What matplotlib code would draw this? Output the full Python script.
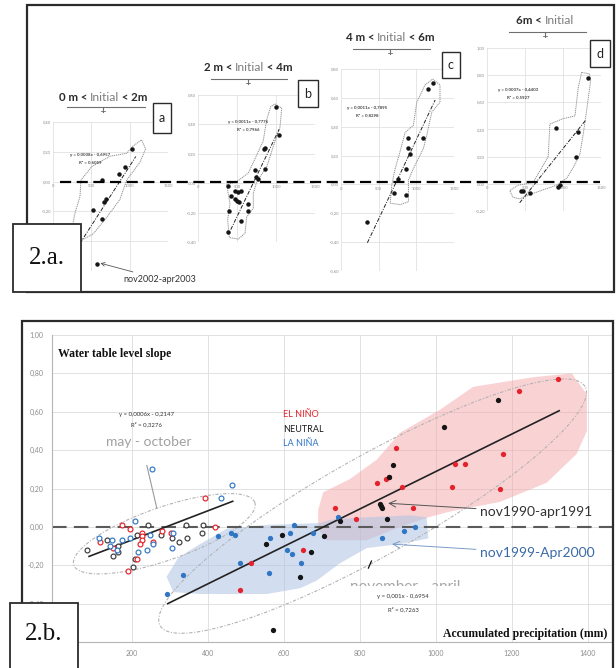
import matplotlib
matplotlib.use("Agg")
import numpy as np
from matplotlib import pyplot as plt
from matplotlib.patches import Rectangle, Polygon
from matplotlib.lines import Line2D
from matplotlib.transforms import Bbox, TransformedBbox, blended_transform_factory

W, H = 616, 668
SANS = ["Lato", "DejaVu Sans"]
SERIF = ["Liberation Serif", "DejaVu Serif"]

# ---- 2.a: four small panels (accumulated precipitation vs slope) ----
small_xticks = [0, 500, 1000, 1500]

a_x = [1034, 939, 865, 635, 691, 665, 517, 643, 569]
a_y = [0.22, 0.10, 0.05, 0.01, -0.12, -0.14, -0.19, -0.25, -0.55]
a_fit = (0.0008, -0.6957, 350, 1080)
a_eq = ["y = 0,0008x - 0,6957", "R² = 0,6059"]
a_hull_x = [1156, 1208, 1134, 960, 873, 700, 526, 352, 243, 287, 352, 365, 504, 743, 960, 1047]
a_hull_y = [0.28, 0.22, 0.13, 0.01, -0.12, -0.24, -0.35, -0.40, -0.33, -0.21, -0.10, 0.01, 0.10, 0.17, 0.19, 0.24]
a_yticks = [-0.6, -0.4, -0.2, 0.0, 0.2, 0.4]

b_x = [1004, 1034, 854, 850, 854, 730, 739, 773, 390, 476, 510, 545, 425, 480, 500, 520, 635, 635, 400, 553, 380]
b_y = [0.52, 0.33, 0.24, 0.23, 0.10, 0.09, 0.04, 0.03, -0.02, -0.05, -0.06, -0.05, -0.09, -0.11, -0.12, -0.13, -0.14, -0.19, -0.19, -0.26, -0.33]
b_fit = (0.0011, -0.7776, 420, 1040)
b_eq = ["y = 0,0011x - 0,7776", "R² = 0,7966"]
b_hull_x = [987, 1073, 1051, 965, 880, 752, 709, 709, 624, 603, 517, 402, 380, 410, 368, 496, 645, 752, 837, 880, 932]
b_hull_y = [0.54, 0.51, 0.38, 0.25, 0.11, 0.01, -0.07, -0.17, -0.23, -0.34, -0.38, -0.37, -0.25, -0.14, -0.01, 0.01, 0.07, 0.19, 0.29, 0.43, 0.52]
b_yticks = [-0.4, -0.2, 0.0, 0.2, 0.4, 0.6]

c_x = [1226, 1160, 895, 1085, 887, 917, 865, 750, 710, 865, 344]
c_y = [0.70, 0.66, 0.32, 0.32, 0.25, 0.21, 0.11, 0.04, -0.06, -0.07, -0.26]
c_fit = (0.0011, -0.7895, 350, 1250)
c_eq = ["y = 0,0011x - 0,7895", "R² = 0,8298"]
c_hull_x = [1217, 1314, 1314, 1204, 1138, 1094, 961, 895, 895, 785, 653, 675, 719, 785, 851, 961, 1006, 1116]
c_hull_y = [0.73, 0.69, 0.57, 0.50, 0.34, 0.25, 0.11, 0.03, -0.12, -0.14, -0.13, 0.0, 0.11, 0.23, 0.36, 0.41, 0.57, 0.69]
c_yticks = [-0.6, -0.4, -0.2, 0.0, 0.2, 0.4, 0.6, 0.8]

d_x = [1324, 902, 1192, 1170, 928, 959, 444, 475, 563]
d_y = [0.78, 0.41, 0.38, 0.20, -0.02, -0.01, -0.05, -0.05, -0.07]
d_fit = (0.0007, -0.4403, 430, 1300)
d_eq = ["y = 0,0007x - 0,4403", "R² = 0,5927"]
d_hull_x = [1245, 1346, 1364, 1311, 1267, 1223, 1135, 1047, 915, 607, 431, 343, 299, 409, 607, 805, 827, 1003, 1157, 1201]
d_hull_y = [0.82, 0.81, 0.76, 0.54, 0.37, 0.22, 0.12, 0.04, -0.01, -0.07, -0.11, -0.10, -0.05, -0.01, 0.01, 0.20, 0.44, 0.48, 0.50, 0.71]
d_yticks = [-0.2, 0.0, 0.2, 0.4, 0.6, 0.8, 1.0]

panel_titles = [("0 m < ", "Initial", " < 2m"), ("2 m < ", "Initial", " < 4m"),
                ("4 m < ", "Initial", " < 6m"), ("6m < ", "Initial", "")]
panel_letters = ["a", "b", "c", "d"]

# ---- 2.b: seasonal slopes by ENSO phase ----
may_blue_x = [252, 464, 433, 208, 114, 148, 175, 160, 195, 217, 239, 248, 254, 308, 305, 142]
may_blue_y = [0.30, 0.22, 0.15, 0.03, -0.06, -0.07, -0.07, -0.12, -0.06, -0.13, -0.12, -0.04, -0.09, -0.03, -0.11, -0.10]
may_red_x = [392, 173, 195, 225, 225, 225, 221, 212, 190, 256, 278, 302, 418, 117, 150]
may_red_y = [0.15, 0.01, -0.01, -0.03, -0.05, -0.07, -0.09, -0.17, -0.23, -0.08, -0.02, -0.03, 0.00, -0.08, -0.11]
may_black_x = [82, 133, 149, 164, 164, 243, 208, 202, 276, 305, 324, 341, 346, 385, 388, 212]
may_black_y = [-0.12, -0.07, -0.15, -0.13, -0.10, 0.01, -0.17, -0.21, -0.04, -0.06, -0.08, 0.01, -0.06, -0.03, 0.01, -0.04]

nov_red_x = [484, 512, 651, 734, 789, 844, 869, 875, 895, 910, 940, 1043, 1050, 1076, 1168, 1177, 1218, 1322]
nov_red_y = [-0.33, -0.19, -0.12, 0.10, 0.04, 0.23, 0.25, 0.26, 0.41, 0.21, 0.10, 0.21, 0.33, 0.33, 0.20, 0.38, 0.71, 0.77]
nov_black_x = [570, 553, 596, 642, 671, 705, 747, 852, 857, 855, 870, 876, 887, 1022, 1164]
nov_black_y = [-0.54, -0.09, -0.04, -0.26, -0.13, -0.05, 0.03, 0.12, 0.10, 0.11, 0.04, 0.26, 0.32, 0.52, 0.66]
nov_blue_x = [291, 335, 427, 461, 471, 484, 563, 561, 607, 620, 616, 626, 644, 677, 743, 857, 915, 945]
nov_blue_y = [-0.35, -0.25, -0.05, -0.03, -0.04, -0.19, -0.06, -0.24, -0.12, -0.14, -0.03, 0.01, -0.19, -0.03, 0.05, -0.06, -0.02, 0.00]

may_fit = (0.00076, -0.22, 87, 465)
nov_fit = (0.000976, -0.687, 294, 1324)

pink_x = [690, 703, 774, 844, 905, 1010, 1098, 1256, 1357, 1397, 1397, 1370, 1291, 1168, 1037, 980, 905, 817, 712, 690]
pink_y = [0.088, 0.18, 0.25, 0.35, 0.49, 0.61, 0.73, 0.78, 0.80, 0.69, 0.50, 0.38, 0.23, 0.13, 0.08, 0.05, 0.0, -0.07, -0.07, -0.01]
blue_x = [291, 322, 379, 449, 554, 695, 730, 818, 932, 975, 980, 905, 818, 747, 686, 642, 554, 379, 309]
blue_y = [-0.26, -0.16, -0.09, -0.01, 0.01, 0.02, 0.04, 0.05, 0.06, 0.05, -0.06, -0.09, -0.11, -0.19, -0.28, -0.32, -0.35, -0.35, -0.34]

# ellipse: centre, two half-axis vectors (data units)
may_ell = ((285, -0.036), (238, 0.164), (-24, 0.13))
nov_ell = ((833, 0.108), (559, 0.623), (-65, 0.226))

bottom_xticks = [200, 400, 600, 800, 1000, 1200, 1400]
bottom_yticks = [-0.6, -0.4, -0.2, 0.0, 0.2, 0.4, 0.6, 0.8, 1.0]

RED, BLUE, BLACK = "#e5222b", "#2f76c4", "#151515"

fig = plt.figure(figsize=(W / 100, H / 100), dpi=100)


def px_axes(left, top, right, bottom):
    return fig.add_axes([left / W, 1 - bottom / H, (right - left) / W, (bottom - top) / H])


def fx(x):
    return x / W


def fy(y):
    return 1 - y / H


def comma(v):
    return f"{v:.2f}".replace(".", ",")


def box(left, top, right, bottom, lw=1.2, fill=True):
    fig.add_artist(Rectangle((fx(left), fy(bottom)), (right - left) / W, (bottom - top) / H,
                             transform=fig.transFigure, fc="white" if fill else "none",
                             ec="#2b2b2b", lw=lw, zorder=5 if fill else 1))


def title_pieces(cx, y, pieces):
    r = fig.canvas.get_renderer()
    styles = [dict(color="#2b2b2b", fontweight="bold", fontsize=8.3),
              dict(color="#7f7f7f", fontsize=8.8),
              dict(color="#2b2b2b", fontweight="bold", fontsize=8.3)]
    texts = [fig.text(0, fy(y), s, va="baseline", ha="left", family=SANS, **st)
             for s, st in zip(pieces, styles)]
    widths = [t.get_window_extent(r).width for t in texts]
    x = cx - sum(widths) / 2
    for t, w in zip(texts, widths):
        t.set_x(fx(x))
        x += w


# outer frames
box(27, 5, 614, 292, lw=1.6, fill=False)
box(22, 321, 613, 690, lw=1.6, fill=False)

# small panels
panels = [
    ((53, 122, 168, 271), a_x, a_y, a_fit, a_eq, a_hull_x, a_hull_y, a_yticks, (90, 155)),
    ((198, 95, 315, 242), b_x, b_y, b_fit, b_eq, b_hull_x, b_hull_y, b_yticks, (248, 122)),
    ((341, 69, 454, 271), c_x, c_y, c_fit, c_eq, c_hull_x, c_hull_y, c_yticks, (367, 108)),
    ((487, 48, 601, 211), d_x, d_y, d_fit, d_eq, d_hull_x, d_hull_y, d_yticks, (518, 90)),
]
title_pos = [(103, 101, 67, 145, 107), (248, 71, 211, 287, 79), (390, 41, 353, 430, 49), (545, 24, 509, 586, 32)]
letter_box = [(153, 103, 171, 133), (298, 80, 318, 107), (442, 52, 460, 78), (590, 40, 610, 67)]

small_axes = []
for i, (rect, px, py, fit, eq, hx, hy, yt, eqpos) in enumerate(panels):
    ax = px_axes(*rect)
    small_axes.append(ax)
    ax.set_xlim(0, 1500)
    ax.set_ylim(yt[0], yt[-1])
    ax.set_xticks(small_xticks)
    ax.set_yticks(yt)
    # labels hidden behind the "2.a." box are left empty
    ax.set_yticklabels(["" if (i == 0 and v < -0.3) else comma(v) for v in yt])
    ax.grid(True, color="#dcdcdc", lw=0.5)
    ax.set_axisbelow(True)
    for s in ["top", "right", "left", "bottom"]:
        ax.spines[s].set_visible(False)
    ax.spines["bottom"].set_position(("data", 0))
    ax.tick_params(length=0, labelsize=3, labelcolor="#8c8c8c", pad=1.5)
    for lab in ax.get_xticklabels() + ax.get_yticklabels():
        lab.set_family(SANS)
    ax.add_patch(Polygon(np.column_stack([hx, hy]), closed=True, fill=False,
                         ec="#8f8f8f", lw=0.7, ls=(0, (1.2, 0.8)), zorder=2))
    xs = np.array([fit[2], fit[3]])
    ax.plot(xs, fit[0] * xs + fit[1], color="#222222", lw=0.7,
            ls=(0, (4, 1.5, 1, 1.5)), zorder=3)
    ax.plot(px, py, "o", ms=2.2, color=BLACK, zorder=4, clip_on=False)
    for k, line in enumerate(eq):
        fig.text(fx(eqpos[0]), fy(eqpos[1] + 7.5 * k), line, ha="center", va="center",
                 fontsize=3.2, fontweight="bold", color="#404040", family=SANS)
    cx, by, ul, ur, uy = title_pos[i]
    title_pieces(cx, by, panel_titles[i])
    fig.add_artist(Line2D([fx(ul), fx(ur)], [fy(uy), fy(uy)], transform=fig.transFigure,
                          color="#6f6f6f", lw=0.8))
    fig.add_artist(Line2D([fx(cx), fx(cx)], [fy(uy + 1), fy(uy + 5)], transform=fig.transFigure,
                          color="#6f6f6f", lw=0.8))
    fig.add_artist(Line2D([fx(cx - 2), fx(cx + 2)], [fy(uy + 4), fy(uy + 4)], transform=fig.transFigure,
                          color="#6f6f6f", lw=0.6))
    lb = letter_box[i]
    box(*lb, lw=1.0)
    fig.text(fx((lb[0] + lb[2]) / 2), fy((lb[1] + lb[3]) / 2), panel_letters[i], ha="center",
             va="center", fontsize=9, color="#222222", family=SANS, zorder=6)

small_axes[0].annotate("nov2002-apr2003", xy=(600, -0.545), xytext=(920, -0.655),
                       textcoords="data", fontsize=6.5, color="#333333", family=SANS,
                       va="center", annotation_clip=False,
                       arrowprops=dict(arrowstyle="->", color="#555555", lw=0.6,
                                       shrinkA=0, shrinkB=1))

# shared zero line across the small panels
zero_tr = blended_transform_factory(fig.transFigure, small_axes[0].transData)
fig.add_artist(Line2D([fx(60), fx(600)], [0, 0], transform=zero_tr, color="black",
                      lw=1.6, dashes=(5, 2.5)))

box(13, 224, 81, 292, lw=1.3)
fig.text(fx(47), fy(258), "2.a.", ha="center", va="center", fontsize=18,
         family=SERIF, color="#111111", zorder=6)

# ---- 2.b main chart ----
ax = px_axes(52, 335, 612, 642)
ax.set_xlim(-10.5, 1463)
ax.set_ylim(-0.6, 1.0)
ax.set_xticks(bottom_xticks)
ax.set_yticks(bottom_yticks)
ax.set_yticklabels(["" if v < -0.5 else comma(v) for v in bottom_yticks])
ax.grid(True, color="#dcdcdc", lw=0.6)
ax.set_axisbelow(True)
for s in ["top", "right"]:
    ax.spines[s].set_visible(False)
for s in ["left", "bottom"]:
    ax.spines[s].set_color("#b5b5b5")
    ax.spines[s].set_linewidth(0.8)
ax.tick_params(length=0, labelsize=5, labelcolor="#8c8c8c", pad=6)
for lab in ax.get_xticklabels() + ax.get_yticklabels():
    lab.set_family(SANS)

ax.add_patch(Polygon(np.column_stack([pink_x, pink_y]), closed=True, fc="#f4a6ab",
                     alpha=0.5, ec="none", zorder=1))
ax.add_patch(Polygon(np.column_stack([blue_x, blue_y]), closed=True, fc="#adc2e3",
                     alpha=0.55, ec="none", zorder=1.1))

t = np.linspace(0, 2 * np.pi, 240)
for (c, a, b) in [may_ell, nov_ell]:
    ex = c[0] + a[0] * np.cos(t) + b[0] * np.sin(t)
    ey = c[1] + a[1] * np.cos(t) + b[1] * np.sin(t)
    ax.plot(ex, ey, color="#b3b3b3", lw=0.8, ls=(0, (3, 1.5, 1, 1.5)), zorder=1.5)

ax.axhline(0, color="#5a5a5a", lw=1.5, dashes=(7, 3.5), zorder=2)

for fit in [may_fit, nov_fit]:
    xs = np.array([fit[2], fit[3]])
    ax.plot(xs, fit[0] * xs + fit[1], color="#222222", lw=1.2, zorder=3)

open_kw = dict(ls="none", marker="o", ms=3.5, mfc="white", mew=0.85, zorder=4)
ax.plot(may_black_x, may_black_y, mec="#3a3a3a", **open_kw)
ax.plot(may_red_x, may_red_y, mec=RED, **open_kw)
ax.plot(may_blue_x, may_blue_y, mec=BLUE, **open_kw)

fill_kw = dict(ls="none", marker="o", ms=3.8, mew=0, zorder=4)
ax.plot(nov_blue_x, nov_blue_y, color=BLUE, **fill_kw)
ax.plot(nov_red_x, nov_red_y, color=RED, **fill_kw)
ax.plot(nov_black_x, nov_black_y, color=BLACK, clip_on=False, **fill_kw)

ax.text(5, 0.902, "Water table level slope", fontsize=8.5, fontweight="bold",
        family=SERIF, va="center", ha="left", color="#111111")
ax.text(1452, -0.557, "Accumulated precipitation (mm)", fontsize=8.5, fontweight="bold",
        family=SERIF, va="center", ha="right", color="#111111")

for label, col, yy in [("EL NIÑO", RED, 0.584), ("NEUTRAL", "#1a1a1a", 0.509), ("LA NIÑA", BLUE, 0.436)]:
    ax.text(597, yy, label, fontsize=6.5, color=col, family=SANS, va="center", ha="left")

ax.text(239, 0.587, "y = 0,0006x - 0,2147", fontsize=4.3, color="#333333", family=SANS,
        ha="center", va="center")
ax.text(239, 0.535, "R² = 0,3276", fontsize=4.3, color="#333333", family=SANS,
        ha="center", va="center")
ax.text(245, 0.44, "may - october", fontsize=10, color="#a0a0a0", family=SANS,
        ha="center", va="center")
ax.plot([239, 265], [0.32, 0.10], color="#9a9a9a", lw=0.8, zorder=2)

ax.annotate("nov1990-apr1991", xy=(874, 0.123), xytext=(1116, 0.076), fontsize=10,
            color="#333333", family=SANS, va="center", ha="left",
            arrowprops=dict(arrowstyle="->", color="#555555", lw=0.7, shrinkA=1, shrinkB=0,
                            mutation_scale=12))
ax.annotate("nov1999-Apr2000", xy=(884, -0.09), xytext=(1116, -0.137), fontsize=10,
            color="#3a6aa8", family=SANS, va="center", ha="left",
            arrowprops=dict(arrowstyle="->", color="#7a9cc8", lw=0.7, shrinkA=1, shrinkB=0,
                            mutation_scale=12))

# label whose lower half is cut off in the source figure
nov_label = ax.text(918, -0.315, "november - april", fontsize=11, color="#a6a6a6",
                    family=SANS, ha="center", va="center")
nov_label.set_clip_on(True)
nov_label.set_clip_box(TransformedBbox(Bbox([[600, -0.308], [1300, 0.0]]), ax.transData))
ax.plot([822, 830], [-0.215, -0.178], color="#111111", lw=0.9, zorder=4)
ax.text(913, -0.365, "y = 0,001x - 0,6954", fontsize=4.3, color="#333333", family=SANS,
        ha="center", va="center")
ax.text(913, -0.428, "R² = 0,7263", fontsize=4.3, color="#333333", family=SANS,
        ha="center", va="center")

box(10, 603, 78, 690, lw=1.3)
fig.text(fx(44), fy(634), "2.b.", ha="center", va="center", fontsize=18,
         family=SERIF, color="#111111", zorder=6)

fig.savefig("out.png", dpi=100, facecolor="white")
